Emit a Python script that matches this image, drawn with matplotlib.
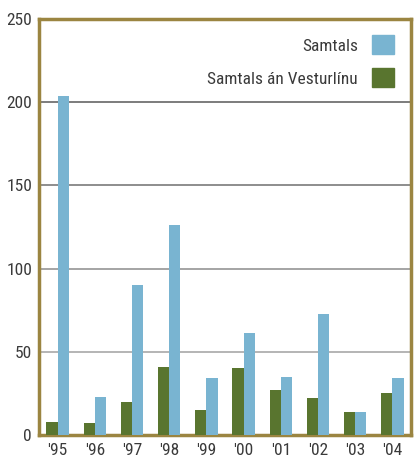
import numpy as np
import matplotlib.pyplot as plt
from matplotlib.patches import Patch

years = ["'95", "'96", "'97", "'98", "'99", "'00", "'01", "'02", "'03", "'04"]
samtals = [204, 23, 90, 126, 34, 61, 35, 73, 14, 34]
samtals_an_vesturlinu = [8, 7, 20, 41, 15, 40, 27, 22, 14, 25]
y_ticks = [0, 50, 100, 150, 200, 250]

plt.rcParams["font.family"] = ["Roboto Condensed", "DejaVu Sans"]

BLUE = "#79b4d1"
GREEN = "#59752f"
FRAME = "#9b8541"
TEXT = "#3a3a3a"
# grid lines get a little lighter towards the bottom in the original
GRID_COLORS = {50: "#a8a8a8", 100: "#959595", 150: "#7a7a7a", 200: "#666666"}

fig = plt.figure(figsize=(4.17, 4.69), dpi=100)
ax = fig.add_axes([0.0935, 0.0725, 0.892, 0.887])

x = np.arange(len(years))
w = 0.3
ax.bar(x - w / 2, samtals_an_vesturlinu, width=w, color=GREEN, zorder=3)
ax.bar(x + w / 2, samtals, width=w, color=BLUE, zorder=3)

ax.set_xlim(-0.5, len(years) - 0.5)
ax.set_ylim(0, 250)
ax.set_yticks(y_ticks)
ax.set_xticks(x)
ax.set_xticklabels(years)
ax.tick_params(length=0, labelsize=12.5, colors=TEXT, pad=6)
ax.tick_params(axis="y", pad=5)
for yv, c in GRID_COLORS.items():
    ax.axhline(yv, color=c, linewidth=1.2, zorder=1)
for s in ax.spines.values():
    s.set_color(FRAME)
    s.set_linewidth(2.5)

handles = [Patch(color=BLUE), Patch(color=GREEN)]
ax.legend(handles, ["Samtals", "Samtals án Vesturlínu"], loc="upper right",
          frameon=False, markerfirst=False, fontsize=12.5, labelcolor=TEXT,
          handlelength=1.3, handleheight=1.3, labelspacing=0.8,
          borderaxespad=0.55, handletextpad=0.8)

fig.savefig("out.png", dpi=100)
